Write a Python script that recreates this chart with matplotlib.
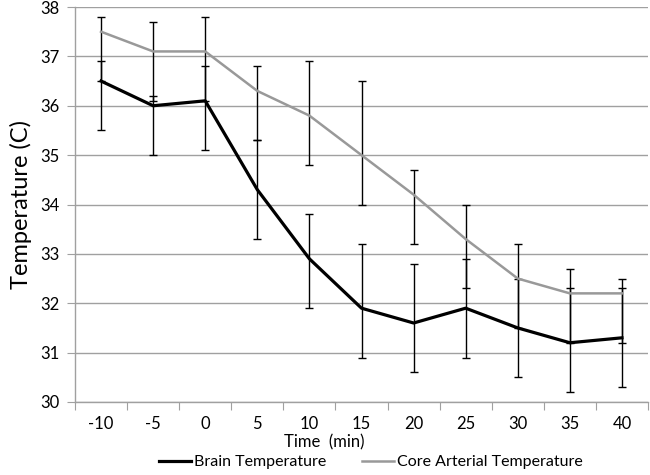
import matplotlib
matplotlib.use("Agg")
import matplotlib.pyplot as plt
import numpy as np

plt.rcParams['font.family'] = ['Lato', 'DejaVu Sans']

time_labels = ['-10', '-5', '0', '5', '10', '15', '20', '25', '30', '35', '40']
brain = [36.5, 36.0, 36.1, 34.3, 32.9, 31.9, 31.6, 31.9, 31.5, 31.2, 31.3]
brain_err_lo = [1.0, 1.0, 1.0, 1.0, 1.0, 1.0, 1.0, 1.0, 1.0, 1.0, 1.0]
brain_err_hi = [0.4, 0.2, 0.7, 1.0, 0.9, 1.3, 1.2, 1.0, 1.0, 1.1, 1.0]
core = [37.5, 37.1, 37.1, 36.3, 35.8, 35.0, 34.2, 33.3, 32.5, 32.2, 32.2]
core_err_lo = [1.0, 1.0, 1.0, 1.0, 1.0, 1.0, 1.0, 1.0, 1.0, 1.0, 1.0]
core_err_hi = [0.3, 0.6, 0.7, 0.5, 1.1, 1.5, 0.5, 0.7, 0.7, 0.5, 0.3]

fig = plt.figure(figsize=(6.5, 4.75), dpi=100)
ax = fig.add_axes([75/650, 73/475, 573/650, 395/475])

x = np.arange(len(time_labels))
grid_c = '#a0a0a0'

ax.errorbar(x, brain, yerr=[brain_err_lo, brain_err_hi], color='black', lw=2.3,
            ecolor='black', elinewidth=1.0, capsize=3, capthick=1.0,
            label='Brain Temperature', zorder=3)
ax.errorbar(x, core, yerr=[core_err_lo, core_err_hi], color='#999999', lw=1.8,
            ecolor='black', elinewidth=1.0, capsize=3, capthick=1.0,
            label='Core Arterial Temperature', zorder=3)

ax.set_ylim(30, 38)
ax.set_xlim(-0.5, len(time_labels) - 0.5)
ax.set_yticks(np.arange(30, 39, 1))
ax.yaxis.grid(True, color=grid_c, lw=1.0)
ax.set_axisbelow(True)

ax.set_xticks(np.arange(-0.5, len(time_labels), 1.0))
ax.set_xticklabels([])
ax.set_xticks(x, minor=True)
ax.set_xticklabels(time_labels, minor=True)
ax.tick_params(axis='x', which='major', length=6, color=grid_c, direction='out')
ax.tick_params(axis='x', which='minor', length=0, pad=10, labelsize=12)
ax.tick_params(axis='y', length=6, color=grid_c, labelsize=12, pad=5)

for s in ['top', 'right']:
    ax.spines[s].set_visible(False)
for s in ['left', 'bottom']:
    ax.spines[s].set_color(grid_c)
    ax.spines[s].set_linewidth(1.0)

ax.set_ylabel('Temperature (C)', fontsize=17, labelpad=6)
fig.text(324/650, 1 - 442/475, 'Time  (min)', ha='center', va='center', fontsize=12)

handles = [plt.Line2D([], [], color='black', lw=2.3),
           plt.Line2D([], [], color='#999999', lw=1.8)]
fig.legend(handles, ['Brain Temperature', 'Core Arterial Temperature'],
           loc='center', bbox_to_anchor=(371/650, 1 - 462/475), ncol=2,
           frameon=False, fontsize=11.5, handlelength=2.0, handletextpad=0.2,
           columnspacing=2.2)

fig.savefig('out.png', dpi=100)
